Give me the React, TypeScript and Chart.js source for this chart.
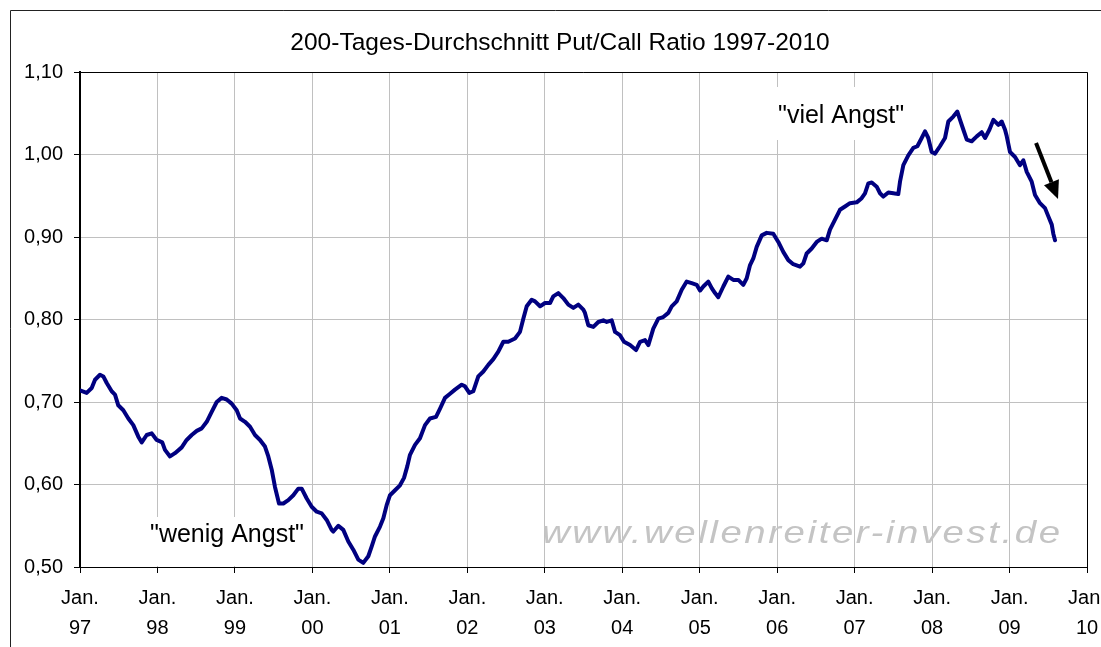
import React, { useEffect, useRef } from 'react';
import { Chart, registerables } from 'chart.js';

Chart.register(...registerables);

const TITLE = '200-Tages-Durchschnitt Put/Call Ratio 1997-2010';
const WATERMARK = 'www.wellenreiter-invest.de';
const LOW_LABEL = '"wenig Angst"';
const HIGH_LABEL = '"viel Angst"';

// decimal years
const dates = [
  1997.000, 1997.086, 1997.151, 1997.194, 1997.258, 1997.301, 1997.345, 1997.409, 1997.452, 1997.494,
  1997.559, 1997.624, 1997.688, 1997.753, 1997.797, 1997.861, 1997.926, 1997.990, 1998.062, 1998.097,
  1998.162, 1998.226, 1998.313, 1998.377, 1998.442, 1998.507, 1998.571, 1998.636, 1998.700, 1998.765,
  1998.829, 1998.894, 1998.958, 1999.023, 1999.066, 1999.130, 1999.195, 1999.259, 1999.324, 1999.388,
  1999.431, 1999.475, 1999.517, 1999.569, 1999.625, 1999.689, 1999.754, 1999.818, 1999.862, 1999.927,
  1999.991, 2000.056, 2000.120, 2000.185, 2000.249, 2000.270, 2000.335, 2000.399, 2000.464, 2000.528,
  2000.593, 2000.657, 2000.722, 2000.766, 2000.808, 2000.873, 2000.916, 2000.959, 2001.002, 2001.067,
  2001.131, 2001.183, 2001.225, 2001.260, 2001.325, 2001.389, 2001.454, 2001.518, 2001.596, 2001.648,
  2001.712, 2001.777, 2001.841, 2001.928, 2001.970, 2002.026, 2002.077, 2002.142, 2002.207, 2002.271,
  2002.336, 2002.400, 2002.465, 2002.529, 2002.616, 2002.680, 2002.723, 2002.767, 2002.831, 2002.874,
  2002.939, 2003.003, 2003.068, 2003.110, 2003.175, 2003.239, 2003.304, 2003.369, 2003.433, 2003.498,
  2003.519, 2003.562, 2003.627, 2003.691, 2003.756, 2003.800, 2003.864, 2003.907, 2003.971, 2004.023,
  2004.101, 2004.178, 2004.230, 2004.294, 2004.337, 2004.401, 2004.466, 2004.530, 2004.595, 2004.639,
  2004.703, 2004.768, 2004.832, 2004.897, 2004.961, 2005.004, 2005.047, 2005.111, 2005.155, 2005.198,
  2005.240, 2005.305, 2005.369, 2005.434, 2005.499, 2005.563, 2005.607, 2005.650, 2005.692, 2005.736,
  2005.801, 2005.865, 2005.950, 2006.015, 2006.079, 2006.144, 2006.208, 2006.295, 2006.338, 2006.381,
  2006.446, 2006.511, 2006.575, 2006.640, 2006.682, 2006.747, 2006.811, 2006.876, 2006.940, 2007.027,
  2007.091, 2007.134, 2007.177, 2007.221, 2007.285, 2007.328, 2007.371, 2007.435, 2007.500, 2007.564,
  2007.586, 2007.629, 2007.693, 2007.758, 2007.810, 2007.866, 2007.909, 2007.951, 2007.995, 2008.038,
  2008.102, 2008.167, 2008.210, 2008.274, 2008.326, 2008.361, 2008.404, 2008.448, 2008.512, 2008.577,
  2008.641, 2008.684, 2008.740, 2008.792, 2008.856, 2008.899, 2008.942, 2008.964, 2009.006, 2009.071,
  2009.135, 2009.178, 2009.222, 2009.286, 2009.329, 2009.393, 2009.458, 2009.501, 2009.545, 2009.565,
  2009.587,
];

const ratio = [
  0.714, 0.711, 0.717, 0.727, 0.733, 0.731, 0.723, 0.713, 0.709, 0.696,
  0.690, 0.680, 0.672, 0.658, 0.651, 0.660, 0.662, 0.654, 0.651, 0.642,
  0.634, 0.638, 0.645, 0.654, 0.660, 0.665, 0.668, 0.676, 0.688, 0.700,
  0.705, 0.703, 0.698, 0.690, 0.680, 0.676, 0.670, 0.660, 0.654, 0.646,
  0.634, 0.618, 0.597, 0.577, 0.577, 0.581, 0.587, 0.595, 0.595, 0.583,
  0.573, 0.567, 0.565, 0.557, 0.545, 0.543, 0.550, 0.545, 0.531, 0.521,
  0.509, 0.505, 0.513, 0.525, 0.537, 0.549, 0.559, 0.575, 0.587, 0.593,
  0.599, 0.608, 0.622, 0.636, 0.648, 0.656, 0.672, 0.680, 0.682, 0.692,
  0.705, 0.710, 0.715, 0.721, 0.719, 0.711, 0.713, 0.731, 0.737, 0.745,
  0.752, 0.761, 0.773, 0.773, 0.777, 0.785, 0.801, 0.816, 0.824, 0.822,
  0.816, 0.820, 0.820, 0.828, 0.832, 0.826, 0.818, 0.814, 0.818, 0.812,
  0.808, 0.793, 0.791, 0.797, 0.799, 0.797, 0.799, 0.785, 0.781, 0.773,
  0.769, 0.763, 0.773, 0.775, 0.769, 0.789, 0.801, 0.803, 0.808, 0.816,
  0.822, 0.836, 0.846, 0.844, 0.842, 0.835, 0.840, 0.846, 0.838, 0.832,
  0.827, 0.840, 0.852, 0.848, 0.848, 0.842, 0.850, 0.866, 0.874, 0.888,
  0.902, 0.905, 0.904, 0.894, 0.882, 0.872, 0.867, 0.864, 0.868, 0.880,
  0.886, 0.894, 0.898, 0.896, 0.909, 0.921, 0.933, 0.937, 0.941, 0.942,
  0.947, 0.953, 0.965, 0.966, 0.961, 0.953, 0.949, 0.954, 0.953, 0.952,
  0.967, 0.987, 0.999, 1.008, 1.010, 1.020, 1.028, 1.020, 1.003, 1.001,
  1.010, 1.020, 1.040, 1.046, 1.052, 1.042, 1.030, 1.018, 1.016, 1.022,
  1.027, 1.020, 1.030, 1.042, 1.036, 1.040, 1.030, 1.022, 1.003, 0.997,
  0.987, 0.993, 0.979, 0.967, 0.951, 0.941, 0.935, 0.925, 0.915, 0.904,
  0.896,
];

const xTickYears = [1997, 1998, 1999, 2000, 2001, 2002, 2003, 2004, 2005, 2006, 2007, 2008, 2009, 2010];
const yTickValues = [0.5, 0.6, 0.7, 0.8, 0.9, 1.0, 1.1];

const FONT = "'Liberation Sans', Arial, sans-serif";

export default function App() {
  const ref = useRef<HTMLCanvasElement>(null);

  useEffect(() => {
    if (!ref.current) return;

    const deco = {
      id: 'deco',
      beforeDraw(chart: any) {
        const ctx = chart.ctx;
        ctx.save();
        ctx.fillStyle = '#fff';
        ctx.fillRect(0, 0, chart.width, chart.height);
        ctx.strokeStyle = '#222';
        ctx.lineWidth = 1;
        ctx.beginPath();
        ctx.moveTo(10.5, chart.height);
        ctx.lineTo(10.5, 10.5);
        ctx.lineTo(chart.width, 10.5);
        ctx.stroke();
        ctx.restore();
      },
      beforeDatasetsDraw(chart: any) {
        const { ctx, chartArea: a } = chart;
        const xs = chart.scales.x;
        const ys = chart.scales.y;
        ctx.save();
        // watermark (horizontally stretched)
        const wx = xs.getPixelForValue(2002.964);
        const wy = ys.getPixelForValue(0.5291);
        const sx = 1.2;
        ctx.font = `italic 32px ${FONT}`;
        ctx.fillStyle = '#c4c4c4';
        ctx.textAlign = 'left';
        ctx.textBaseline = 'alphabetic';
        const w0 = ctx.measureText(WATERMARK).width;
        const sp = Math.max(0, (518 / sx - w0) / (WATERMARK.length - 1));
        ctx.save();
        ctx.translate(wx, wy);
        ctx.scale(sx, 1);
        (ctx as any).letterSpacing = sp.toFixed(2) + 'px';
        ctx.fillText(WATERMARK, 0, 0);
        (ctx as any).letterSpacing = '0px';
        ctx.restore();

        // annotation labels with white boxes
        ctx.font = `25px ${FONT}`;
        const labels = [
          { text: LOW_LABEL, x: 1997.904, y: 0.5303, up: 25, down: 24 },
          { text: HIGH_LABEL, x: 2006.011, y: 1.0382, up: 36, down: 17 },
        ];
        for (const l of labels) {
          const px = xs.getPixelForValue(l.x);
          const py = ys.getPixelForValue(l.y);
          const w = ctx.measureText(l.text).width;
          ctx.fillStyle = '#fff';
          const top = Math.max(a.top + 1, py - l.up);
          const bottom = Math.min(a.bottom - 1, py + l.down);
          ctx.fillRect(px - 6, top, w + 12, bottom - top);
          ctx.fillStyle = '#000';
          ctx.fillText(l.text, px, py);
        }

        // plot frame top & right
        ctx.strokeStyle = '#000';
        ctx.lineWidth = 1;
        ctx.beginPath();
        ctx.moveTo(a.left, Math.round(a.top) + 0.5);
        ctx.lineTo(Math.round(a.right) + 0.5, Math.round(a.top) + 0.5);
        ctx.lineTo(Math.round(a.right) + 0.5, a.bottom);
        ctx.stroke();
        ctx.restore();
      },
      afterDraw(chart: any) {
        const ctx = chart.ctx;
        const xs = chart.scales.x;
        const ys = chart.scales.y;
        ctx.save();
        // title
        ctx.font = `24.5px ${FONT}`;
        ctx.fillStyle = '#000';
        ctx.textAlign = 'center';
        ctx.textBaseline = 'alphabetic';
        ctx.fillText(TITLE, 560, 50);

        // arrow
        const x1 = xs.getPixelForValue(2009.342);
        const y1 = ys.getPixelForValue(1.0139);
        const x2 = xs.getPixelForValue(2009.626);
        const y2 = ys.getPixelForValue(0.9461);
        const ang = Math.atan2(y2 - y1, x2 - x1);
        const hl = 18;
        const hw = 8;
        const bx = x2 - hl * Math.cos(ang);
        const by = y2 - hl * Math.sin(ang);
        ctx.strokeStyle = '#000';
        ctx.lineWidth = 4;
        ctx.beginPath();
        ctx.moveTo(x1, y1);
        ctx.lineTo(bx, by);
        ctx.stroke();
        ctx.fillStyle = '#000';
        ctx.beginPath();
        ctx.moveTo(x2, y2);
        ctx.lineTo(bx + hw * Math.sin(ang), by - hw * Math.cos(ang));
        ctx.lineTo(bx - hw * Math.sin(ang), by + hw * Math.cos(ang));
        ctx.closePath();
        ctx.fill();
        ctx.restore();
      },
    };

    const chart = new Chart(ref.current, {
      type: 'line',
      data: {
        datasets: [
          {
            label: 'Put/Call Ratio',
            data: dates.map((d, i) => ({ x: d, y: ratio[i] })),
            borderColor: '#000080',
            backgroundColor: '#000080',
            borderWidth: 4,
            pointRadius: 0,
            tension: 0,
            borderJoinStyle: 'round',
            borderCapStyle: 'round',
          },
        ],
      },
      options: {
        responsive: false,
        animation: false,
        events: [],
        layout: { padding: { top: 72, left: 0, right: 14, bottom: 0 } },
        plugins: {
          legend: { display: false },
          tooltip: { enabled: false },
          title: { display: false },
        },
        scales: {
          x: {
            type: 'linear',
            min: 1997,
            max: 2010,
            afterBuildTicks: (s: any) => {
              s.ticks = xTickYears.map((v) => ({ value: v }));
            },
            ticks: {
              autoSkip: false,
              maxRotation: 0,
              minRotation: 0,
              padding: 10,
              color: '#000',
              font: { family: FONT, size: 20, lineHeight: 1.5 },
              callback: (v: any) => ['Jan.', String(Math.round(v) % 100).padStart(2, '0')],
            },
            grid: { color: '#c0c0c0', tickColor: '#000', tickLength: 6, lineWidth: 1 },
            border: { color: '#000', width: 1 },
            afterFit: (s: any) => {
              s.height = 80;
              s.paddingLeft = 0;
              s.paddingRight = 0;
            },
          },
          y: {
            type: 'linear',
            min: 0.5,
            max: 1.1,
            afterBuildTicks: (s: any) => {
              s.ticks = yTickValues.map((v) => ({ value: v }));
            },
            ticks: {
              padding: 11,
              color: '#000',
              font: { family: FONT, size: 20 },
              callback: (v: any) => Number(v).toFixed(2).replace('.', ','),
            },
            grid: { color: '#c0c0c0', tickColor: '#000', tickLength: 6, lineWidth: 1 },
            border: { color: '#000', width: 2 },
            afterFit: (s: any) => {
              s.width = 80;
              s.paddingTop = 0;
              s.paddingBottom = 0;
            },
          },
        },
      },
      plugins: [deco],
    });

    return () => chart.destroy();
  }, []);

  return (
    <div style={{ position: 'fixed', left: 0, top: 0, width: 1101, height: 647, background: '#fff', overflow: 'hidden' }}>
      <canvas ref={ref} width={1101} height={647} style={{ display: 'block', width: 1101, height: 647 }} />
    </div>
  );
}
